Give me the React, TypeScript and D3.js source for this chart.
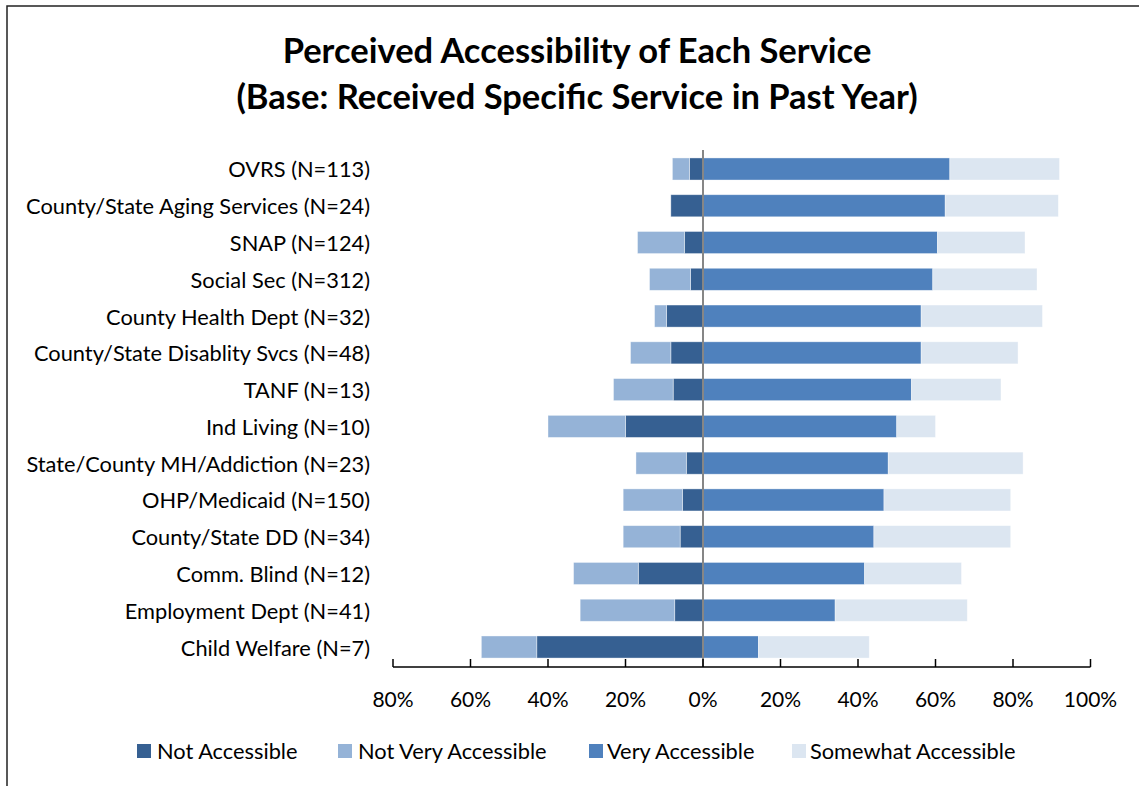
import React from "react";
import * as d3 from "d3";

const categories = [
  "OVRS (N=113)",
  "County/State Aging Services (N=24)",
  "SNAP (N=124)",
  "Social Sec (N=312)",
  "County Health Dept (N=32)",
  "County/State Disablity Svcs (N=48)",
  "TANF (N=13)",
  "Ind Living (N=10)",
  "State/County MH/Addiction (N=23)",
  "OHP/Medicaid (N=150)",
  "County/State DD (N=34)",
  "Comm. Blind (N=12)",
  "Employment Dept (N=41)",
  "Child Welfare (N=7)",
];

const notAccessible = [3.5, 8.3, 4.8, 3.2, 9.4, 8.3, 7.7, 20.0, 4.3, 5.3, 5.9, 16.7, 7.3, 42.9];
const notVeryAccessible = [4.4, 0, 12.1, 10.6, 3.1, 10.4, 15.4, 20.0, 13.0, 15.3, 14.7, 16.7, 24.4, 14.3];
const veryAccessible = [63.7, 62.5, 60.5, 59.3, 56.3, 56.3, 53.8, 50.0, 47.8, 46.7, 44.1, 41.7, 34.1, 14.3];
const somewhatAccessible = [28.3, 29.2, 22.6, 26.9, 31.3, 25.0, 23.1, 10.0, 34.8, 32.7, 35.3, 25.0, 34.1, 28.6];

const tickValues = [-80, -60, -40, -20, 0, 20, 40, 60, 80, 100];

const seriesNames = ["Not Accessible", "Not Very Accessible", "Very Accessible", "Somewhat Accessible"];
const seriesColors = ["#366092", "#95B3D7", "#4F81BD", "#DCE6F1"];

const FONT = "Lato, 'Open Sans', sans-serif";

export default function App() {
  const W = 1139;
  const H = 786;
  const x = d3.scaleLinear().domain([-80, 100]).range([393, 1090.5]);
  const y = d3
    .scaleBand<string>()
    .domain(categories)
    .range([150.6, 665.4])
    .paddingInner(0.4)
    .paddingOuter(0.2);
  const bw = y.bandwidth();
  const axisY = 667;

  const bars: React.ReactNode[] = [];
  categories.forEach((c, i) => {
    const y0 = y(c)!;
    const na = notAccessible[i];
    const nva = notVeryAccessible[i];
    const va = veryAccessible[i];
    const sa = somewhatAccessible[i];
    const segs = [
      { a: -na, b: 0, s: 0 },
      { a: -na - nva, b: -na, s: 1 },
      { a: 0, b: va, s: 2 },
      { a: va, b: va + sa, s: 3 },
    ];
    segs.forEach((g, j) => {
      if (g.b - g.a <= 0) return;
      bars.push(
        <rect
          key={`${i}-${j}`}
          x={x(g.a)}
          y={y0}
          width={x(g.b) - x(g.a)}
          height={bw}
          fill={seriesColors[g.s]}
          stroke="#ffffff"
          strokeOpacity={0.5}
          strokeWidth={0.75}
        />
      );
    });
  });

  const legendItems = [
    { sx: 137, tx: 157 },
    { sx: 338, tx: 358 },
    { sx: 589, tx: 607 },
    { sx: 792, tx: 810 },
  ];

  return (
    <svg
      width={W}
      height={H}
      style={{ position: "absolute", left: 0, top: 0, background: "#ffffff" }}
      fontFamily={FONT}
    >
      <rect x={7} y={6} width={1200} height={900} fill="none" stroke="#222" strokeWidth={1.5} />
      <text x={577} y={63} textAnchor="middle" fontSize={34.5} fontWeight={700} fill="#000">
        Perceived Accessibility of Each Service
      </text>
      <text x={577} y={109} textAnchor="middle" fontSize={34.5} fontWeight={700} fill="#000">
        (Base: Received Specific Service in Past Year)
      </text>

      {bars}

      <line x1={x(0)} x2={x(0)} y1={150} y2={axisY} stroke="#868686" strokeWidth={2} />

      <line x1={x(-80)} x2={x(100)} y1={axisY} y2={axisY} stroke="#000" strokeWidth={1.5} />
      {tickValues.map((t) => (
        <g key={t}>
          <line x1={x(t)} x2={x(t)} y1={axisY} y2={axisY - 8} stroke="#000" strokeWidth={1.5} />
          <text x={x(t)} y={698} textAnchor="middle" dominantBaseline="central" fontSize={21} fill="#000">
            {`${Math.abs(t)}%`}
          </text>
        </g>
      ))}

      {categories.map((c) => (
        <text
          key={c}
          x={370}
          y={y(c)! + bw / 2}
          textAnchor="end"
          dominantBaseline="central"
          fontSize={21.8}
          fill="#000"
        >
          {c}
        </text>
      ))}

      {seriesNames.map((n, i) => (
        <g key={n}>
          <rect x={legendItems[i].sx} y={744} width={14} height={14} fill={seriesColors[i]} />
          <text x={legendItems[i].tx} y={750} dominantBaseline="central" fontSize={21.8} fill="#000">
            {n}
          </text>
        </g>
      ))}
    </svg>
  );
}
